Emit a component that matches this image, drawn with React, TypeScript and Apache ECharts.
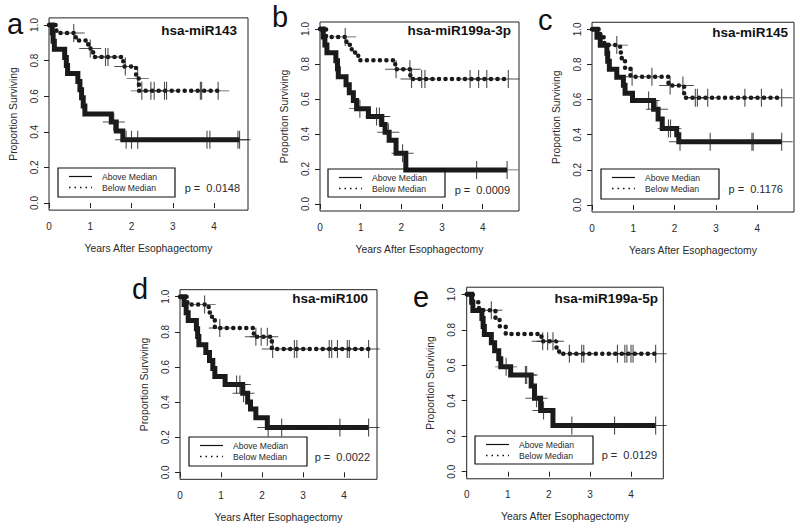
import React, { useEffect, useRef } from "react";
import * as echarts from "echarts";

type Pt = [number, number];

// ---------- text / ticks ----------
const panelLetters = ["a", "b", "c", "d", "e"];
const panelTitles = ["hsa-miR143", "hsa-miR199a-3p", "hsa-miR145", "hsa-miR100", "hsa-miR199a-5p"];
const pValues = ["0.0148", "0.0009", "0.1176", "0.0022", "0.0129"];
const legendNames = ["Above Median", "Below Median"];
const xTicks = [0, 1, 2, 3, 4];
const yTicks = [0, 0.2, 0.4, 0.6, 0.8, 1.0];
const xAxisTitle = "Years After Esophagectomy";
const yAxisTitle = "Proportion Surviving";

// ---------- data: [years, proportion surviving] after each event; censor times ----------
// a: hsa-miR143
const aAbove: Pt[] = [[0, 1], [0.08, 0.955], [0.1, 0.909], [0.13, 0.864], [0.38, 0.818], [0.42, 0.773], [0.45, 0.727], [0.7, 0.682], [0.75, 0.636], [0.79, 0.591], [0.83, 0.545], [0.87, 0.5], [1.51, 0.455], [1.63, 0.405], [1.79, 0.355]];
const aAboveCensor = [1.57, 1.87, 2.0, 2.15, 3.83, 3.9, 4.58, 4.62];
const aBelow: Pt[] = [[0, 1], [0.18, 0.955], [0.65, 0.913], [0.95, 0.868], [1.07, 0.82], [1.8, 0.767], [2.11, 0.7], [2.18, 0.63]];
const aBelowCensor = [0.6, 1.0, 1.37, 1.43, 1.85, 2.15, 2.25, 2.47, 2.55, 2.8, 2.85, 3.67, 3.7, 4.1];

// b: hsa-miR199a-3p
const bAbove: Pt[] = [[0, 1], [0.08, 0.955], [0.12, 0.909], [0.17, 0.864], [0.39, 0.818], [0.43, 0.773], [0.45, 0.727], [0.64, 0.682], [0.72, 0.636], [0.82, 0.591], [0.9, 0.545], [1.19, 0.5], [1.52, 0.455], [1.6, 0.41], [1.7, 0.364], [1.87, 0.29], [2.11, 0.195]];
const bAboveCensor = [0.98, 1.39, 1.46, 1.68, 2.03, 3.85, 4.6];
const bBelow: Pt[] = [[0, 1], [0.15, 0.955], [0.65, 0.91], [0.78, 0.866], [0.94, 0.822], [1.85, 0.77], [2.22, 0.714]];
const bBelowCensor = [0.62, 1.87, 2.21, 2.25, 2.5, 2.58, 3.69, 3.9, 4.1, 4.63];

// c: hsa-miR145
const cAbove: Pt[] = [[0, 1], [0.12, 0.955], [0.2, 0.909], [0.36, 0.864], [0.38, 0.818], [0.42, 0.773], [0.6, 0.727], [0.76, 0.682], [0.8, 0.636], [0.98, 0.595], [1.49, 0.545], [1.6, 0.49], [1.7, 0.436], [2.05, 0.4], [2.1, 0.36]];
const cAboveCensor = [1.37, 1.57, 1.85, 1.9, 2.13, 2.86, 3.87, 3.9, 4.59];
const cBelow: Pt[] = [[0, 1], [0.2, 0.955], [0.3, 0.91], [0.68, 0.868], [0.72, 0.823], [0.8, 0.777], [0.93, 0.73], [1.85, 0.68], [2.23, 0.61]];
const cBelowCensor = [0.6, 0.97, 1.45, 1.89, 2.2, 2.5, 2.55, 2.8, 3.7, 4.1, 4.59];

// d: hsa-miR100
const dAbove: Pt[] = [[0, 1], [0.1, 0.955], [0.15, 0.909], [0.2, 0.864], [0.4, 0.818], [0.43, 0.773], [0.46, 0.727], [0.63, 0.682], [0.72, 0.636], [0.8, 0.591], [0.85, 0.545], [1.1, 0.5], [1.53, 0.45], [1.65, 0.4], [1.72, 0.36], [1.85, 0.31], [2.13, 0.255]];
const dAboveCensor = [1.38, 1.46, 1.55, 2.15, 2.48, 3.9, 4.6];
const dBelow: Pt[] = [[0, 1], [0.18, 0.955], [0.7, 0.91], [0.78, 0.866], [0.85, 0.822], [1.8, 0.772], [2.24, 0.702]];
const dBelowCensor = [0.6, 0.97, 1.85, 1.98, 2.13, 2.26, 2.79, 2.85, 3.64, 3.7, 3.84, 4.08, 4.13, 4.6];

// e: hsa-miR199a-5p
const eAbove: Pt[] = [[0, 1], [0.12, 0.955], [0.15, 0.909], [0.37, 0.864], [0.4, 0.818], [0.43, 0.773], [0.6, 0.727], [0.68, 0.682], [0.78, 0.636], [0.83, 0.591], [1.07, 0.545], [1.57, 0.483], [1.65, 0.414], [1.8, 0.345], [2.1, 0.26]];
const eAboveCensor = [0.96, 1.43, 1.46, 1.7, 1.87, 2.56, 3.6, 4.6];
const eBelow: Pt[] = [[0, 1], [0.15, 0.955], [0.3, 0.91], [0.7, 0.868], [0.8, 0.82], [0.95, 0.776], [1.82, 0.735], [2.18, 0.7], [2.25, 0.665]];
const eBelowCensor = [0.6, 1.85, 1.97, 2.1, 2.5, 2.8, 2.85, 3.67, 3.85, 3.9, 4.0, 4.05, 4.6];

const aboveCurves = [aAbove, bAbove, cAbove, dAbove, eAbove];
const aboveCensors = [aAboveCensor, bAboveCensor, cAboveCensor, dAboveCensor, eAboveCensor];
const belowCurves = [aBelow, bBelow, cBelow, dBelow, eBelow];
const belowCensors = [aBelowCensor, bBelowCensor, cBelowCensor, dBelowCensor, eBelowCensor];

// ---------- layout (pixels) ----------
const LAYOUT = [
  { left: 49, right: 248, y1: 25, y0: 203, x4: 214, letter: [7, 23.5], title: [237, 30], legend: [58, 168, 117, 29], p: [240, 188] },
  { left: 320, right: 519, y1: 29, y0: 204, x4: 482.7, letter: [272, 16.6], title: [511, 30], legend: [328, 169, 117, 28], p: [510, 190] },
  { left: 592, right: 794, y1: 29.3, y0: 205, x4: 757.3, letter: [538, 19.6], title: [788, 32], legend: [601, 169, 118, 30], p: [783, 189] },
  { left: 180, right: 377, y1: 296.7, y0: 472.3, x4: 344, letter: [132, 288.6], title: [368, 298], legend: [189, 437, 118, 29], p: [370, 457] },
  { left: 466.7, right: 663.3, y1: 294.3, y0: 471.7, x4: 631, letter: [413, 296.6], title: [658, 298], legend: [475, 436, 118, 28], p: [657, 455] },
];

const FONT = "'Liberation Sans', Arial, sans-serif";
const INK = "#1a1a1a";
const TXT = "#2a2a2a";

function survAt(curve: Pt[], t: number): number {
  let s = 1;
  for (const [time, v] of curve) if (time <= t) s = v;
  return s;
}
function fullCurve(curve: Pt[], censors: number[]): Pt[] {
  const last = curve[curve.length - 1];
  const lastC = Math.max(...censors);
  return lastC > last[0] ? [...curve, [lastC, last[1]]] : curve.slice();
}

const CROSS = "path://M0,9L22,9M11,0L11,18";

function buildOption() {
  const grid: any[] = [];
  const xAxis: any[] = [];
  const yAxis: any[] = [];
  const series: any[] = [];
  const graphic: any[] = [];

  LAYOUT.forEach((L, i) => {
    const unit = L.y0 - L.y1;
    const xMax = (4 * (L.right - L.left)) / (L.x4 - L.left);
    grid.push({
      left: L.left,
      top: L.y1 - 0.04 * unit,
      width: L.right - L.left,
      height: 1.08 * unit,
      show: true,
      borderColor: "#222",
      borderWidth: 1,
      backgroundColor: "transparent",
    });
    xAxis.push({
      gridIndex: i,
      type: "value",
      min: 0,
      max: xMax,
      axisLine: { show: false },
      splitLine: { show: false },
      axisTick: { show: true, customValues: xTicks, length: 5, lineStyle: { color: "#222", width: 1 } },
      axisLabel: { customValues: xTicks, fontSize: 10, margin: 11, color: TXT, fontFamily: FONT },
      name: xAxisTitle,
      nameLocation: "middle",
      nameGap: 33,
      nameTextStyle: { fontSize: 10.4, color: TXT, fontFamily: FONT },
    });
    yAxis.push({
      gridIndex: i,
      type: "value",
      min: -0.04,
      max: 1.04,
      axisLine: { show: false },
      splitLine: { show: false },
      axisTick: { show: true, customValues: yTicks, length: 5, lineStyle: { color: "#222", width: 1 } },
      axisLabel: {
        customValues: yTicks,
        rotate: 90,
        fontSize: 10,
        margin: 10,
        color: TXT,
        fontFamily: FONT,
        formatter: (v: number) => v.toFixed(1),
      },
      name: yAxisTitle,
      nameLocation: "middle",
      nameGap: 31,
      nameTextStyle: { fontSize: 10.4, color: TXT, fontFamily: FONT },
    });

    const above = aboveCurves[i];
    const below = belowCurves[i];
    series.push({
      type: "line",
      xAxisIndex: i,
      yAxisIndex: i,
      step: "end",
      symbol: "none",
      silent: true,
      data: fullCurve(above, aboveCensors[i]),
      lineStyle: { color: INK, width: 5, join: "miter" },
      z: 3,
    });
    series.push({
      type: "line",
      xAxisIndex: i,
      yAxisIndex: i,
      step: "end",
      symbol: "none",
      silent: true,
      data: fullCurve(below, belowCensors[i]),
      lineStyle: { color: INK, width: 4.5, type: [0.1, 6.4], cap: "round" },
      z: 3,
    });
    series.push({
      type: "scatter",
      xAxisIndex: i,
      yAxisIndex: i,
      symbol: CROSS,
      symbolSize: [22, 18],
      silent: true,
      data: aboveCensors[i].map((t) => [t, survAt(above, t)]),
      itemStyle: { color: "transparent", borderColor: "#222", borderWidth: 1 },
      z: 4,
    });
    series.push({
      type: "scatter",
      xAxisIndex: i,
      yAxisIndex: i,
      symbol: CROSS,
      symbolSize: [22, 18],
      silent: true,
      data: belowCensors[i].map((t) => [t, survAt(below, t)]),
      itemStyle: { color: "transparent", borderColor: "#222", borderWidth: 1 },
      z: 4,
    });

    // panel letter
    graphic.push({
      type: "text",
      x: L.letter[0],
      y: L.letter[1],
      style: { text: panelLetters[i], fontSize: 29, fontFamily: FONT, fill: "#111", align: "left", verticalAlign: "middle" },
    });
    // title
    graphic.push({
      type: "text",
      x: L.title[0],
      y: L.title[1],
      style: { text: panelTitles[i], fontSize: 13.5, fontWeight: "bold", fontFamily: FONT, fill: "#111", align: "right", verticalAlign: "middle" },
    });
    // legend box
    const [lx, ly, lw, lh] = L.legend;
    graphic.push({
      type: "rect",
      shape: { x: lx, y: ly, width: lw, height: lh },
      style: { fill: "none", stroke: "#111", lineWidth: 1.2 },
      z: 5,
    });
    graphic.push({
      type: "line",
      shape: { x1: lx + 11, y1: ly + 8.5, x2: lx + 34, y2: ly + 8.5 },
      style: { stroke: "#111", lineWidth: 1.2 },
      z: 5,
    });
    graphic.push({
      type: "line",
      shape: { x1: lx + 11, y1: ly + 19.5, x2: lx + 34, y2: ly + 19.5 },
      style: { stroke: "#111", lineWidth: 1.4, lineDash: [1.5, 4] },
      z: 5,
    });
    graphic.push({
      type: "text",
      x: lx + 44,
      y: ly + 8.5,
      style: { text: legendNames[0], fontSize: 8.6, fontFamily: FONT, fill: TXT, align: "left", verticalAlign: "middle" },
      z: 5,
    });
    graphic.push({
      type: "text",
      x: lx + 44,
      y: ly + 19.5,
      style: { text: legendNames[1], fontSize: 8.6, fontFamily: FONT, fill: TXT, align: "left", verticalAlign: "middle" },
      z: 5,
    });
    // p value
    graphic.push({
      type: "text",
      x: L.p[0],
      y: L.p[1],
      style: { text: "p =  " + pValues[i], fontSize: 11, fontFamily: FONT, fill: TXT, align: "right", verticalAlign: "middle" },
      z: 5,
    });
  });

  return {
    animation: false,
    backgroundColor: "#ffffff",
    grid,
    xAxis,
    yAxis,
    series,
    graphic,
  };
}

export default function App() {
  const ref = useRef<HTMLDivElement>(null);
  useEffect(() => {
    if (!ref.current) return;
    const chart = echarts.init(ref.current, null, { renderer: "svg" });
    chart.setOption(buildOption() as any);
    return () => chart.dispose();
  }, []);
  return (
    <div
      ref={ref}
      style={{ position: "fixed", left: 0, top: 0, width: 800, height: 529, background: "#fff" }}
    />
  );
}
